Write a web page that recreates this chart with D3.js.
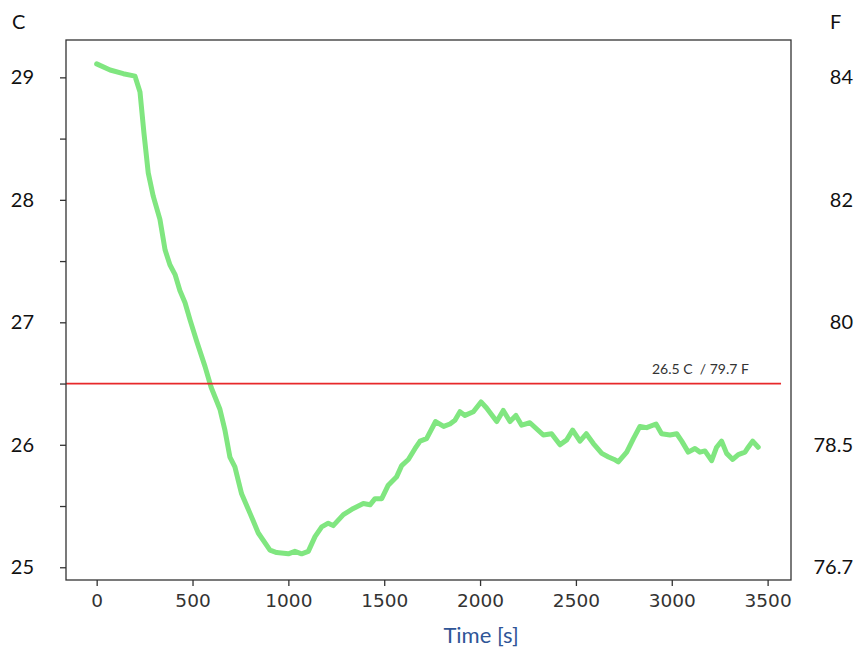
<!DOCTYPE html>
<html>
<head>
<meta charset="utf-8">
<script src="https://cdn.jsdelivr.net/npm/d3@7/dist/d3.min.js"></script>
<style>
  html, body { margin: 0; padding: 0; background: #fff; }
  svg { display: block; }
</style>
</head>
<body>
<svg id="chart" width="858" height="648"></svg>
<script>
// Temperature readings over time (seconds, degrees Celsius)
const timeSec = [0, 70, 139, 200, 226, 247, 269, 295, 330, 357, 382, 409, 434, 461, 487, 523, 565, 597, 643, 669, 695, 721, 756, 800, 843, 904, 939, 1000, 1034, 1069, 1104, 1139, 1174, 1208, 1234, 1287, 1339, 1391, 1426, 1452, 1487, 1521, 1565, 1591, 1626, 1661, 1687, 1721, 1768, 1810, 1843, 1869, 1895, 1921, 1965, 2005, 2034, 2087, 2121, 2156, 2187, 2217, 2260, 2330, 2373, 2417, 2452, 2483, 2521, 2554, 2591, 2635, 2670, 2700, 2721, 2765, 2800, 2834, 2869, 2918, 2947, 2991, 3026, 3052, 3086, 3121, 3147, 3173, 3208, 3234, 3260, 3286, 3318, 3347, 3382, 3399, 3422, 3451];
const tempC   = [29.11, 29.06, 29.03, 29.01, 28.88, 28.54, 28.22, 28.03, 27.84, 27.59, 27.47, 27.39, 27.26, 27.16, 27.02, 26.84, 26.64, 26.47, 26.29, 26.12, 25.90, 25.82, 25.60, 25.44, 25.28, 25.14, 25.12, 25.11, 25.13, 25.11, 25.13, 25.25, 25.33, 25.36, 25.34, 25.43, 25.48, 25.52, 25.51, 25.56, 25.56, 25.67, 25.74, 25.83, 25.88, 25.97, 26.03, 26.05, 26.19, 26.15, 26.17, 26.20, 26.27, 26.24, 26.27, 26.35, 26.30, 26.19, 26.28, 26.19, 26.24, 26.16, 26.18, 26.08, 26.09, 26.00, 26.04, 26.12, 26.03, 26.09, 26.01, 25.93, 25.90, 25.88, 25.86, 25.94, 26.05, 26.15, 26.14, 26.17, 26.09, 26.08, 26.09, 26.03, 25.94, 25.97, 25.94, 25.95, 25.87, 25.98, 26.03, 25.93, 25.88, 25.92, 25.94, 25.98, 26.03, 25.98];

// Axis ticks
const xTicks = [0, 500, 1000, 1500, 2000, 2500, 3000, 3500];
const yMinorTicks = [25, 25.5, 26, 26.5, 27, 27.5, 28, 28.5, 29];
const yLabelValues = [25, 26, 27, 28, 29];
const fahrenheitLabels = ["76.7", "78.5", "80", "82", "84"];

// Reference threshold
const thresholdC = 26.5;
const thresholdLabel = "26.5 C  / 79.7 F";
const thresholdEnd = 3570;

const svg = d3.select("#chart");
const plot = { left: 66, right: 791, top: 40, bottom: 580 };

const x = d3.scaleLinear().domain([-160, 3622]).range([plot.left, plot.right]);
const y = d3.scaleLinear().domain([24.896, 29.305]).range([plot.bottom, plot.top]);

const labelFont = "Lato, 'Open Sans', sans-serif";

// Data line
const line = d3.line()
  .x((d, i) => x(timeSec[i]))
  .y(d => y(d))
  .curve(d3.curveLinear);

svg.append("path")
  .datum(tempC)
  .attr("d", line)
  .attr("fill", "none")
  .attr("stroke", "#80e680")
  .attr("stroke-width", 5)
  .attr("stroke-linejoin", "round")
  .attr("stroke-linecap", "round");

// Threshold line and its label
svg.append("line")
  .attr("x1", x(-160)).attr("x2", x(thresholdEnd))
  .attr("y1", y(thresholdC)).attr("y2", y(thresholdC))
  .attr("stroke", "#e8292b")
  .attr("stroke-width", 1.8);

svg.append("text")
  .attr("x", 652)
  .attr("y", y(thresholdC) - 10)
  .attr("font-family", labelFont)
  .attr("font-size", 14)
  .attr("fill", "#333")
  .style("white-space", "pre")
  .text(thresholdLabel);

// Frame
svg.append("rect")
  .attr("x", plot.left).attr("y", plot.top)
  .attr("width", plot.right - plot.left).attr("height", plot.bottom - plot.top)
  .attr("fill", "none")
  .attr("stroke", "#333")
  .attr("stroke-width", 1.3);

// Bottom axis
const xAxis = d3.axisBottom(x).tickValues(xTicks).tickSize(6).tickPadding(8).tickFormat(d3.format("d"));
const gx = svg.append("g").attr("transform", `translate(0,${plot.bottom})`).call(xAxis);
gx.select(".domain").remove();
gx.selectAll("line").attr("stroke", "#333").attr("stroke-width", 1.3);
gx.selectAll("text")
  .attr("font-family", "'DejaVu Sans', sans-serif")
  .attr("font-size", 18.5)
  .attr("fill", "#333");

// Left axis: minor ticks every half degree
const yAxis = d3.axisLeft(y).tickValues(yMinorTicks).tickSize(6).tickFormat("");
const gy = svg.append("g").attr("transform", `translate(${plot.left},0)`).call(yAxis);
gy.select(".domain").remove();
gy.selectAll("line").attr("stroke", "#333").attr("stroke-width", 1.3);

// Celsius labels
svg.append("g").selectAll("text")
  .data(yLabelValues)
  .join("text")
  .attr("x", 34)
  .attr("y", d => y(d))
  .attr("dy", "0.35em")
  .attr("text-anchor", "end")
  .attr("font-family", labelFont)
  .attr("font-size", 20)
  .attr("fill", "#111")
  .text(d => d);

// Fahrenheit labels on the right
svg.append("g").selectAll("text")
  .data(yLabelValues)
  .join("text")
  .attr("x", 853)
  .attr("y", d => y(d))
  .attr("dy", "0.35em")
  .attr("text-anchor", "end")
  .attr("font-family", labelFont)
  .attr("font-size", 20)
  .attr("fill", "#111")
  .text((d, i) => fahrenheitLabels[i]);

// Unit headers
svg.append("text").attr("x", 12).attr("y", 29)
  .attr("font-family", labelFont).attr("font-size", 20).attr("fill", "#111").text("C");
svg.append("text").attr("x", 830).attr("y", 29)
  .attr("font-family", labelFont).attr("font-size", 20).attr("fill", "#111").text("F");

// X axis title
svg.append("text")
  .attr("x", 481).attr("y", 643)
  .attr("text-anchor", "middle")
  .attr("font-family", labelFont)
  .attr("font-size", 22)
  .attr("fill", "#2f5597")
  .text("Time [s]");
</script>
</body>
</html>
